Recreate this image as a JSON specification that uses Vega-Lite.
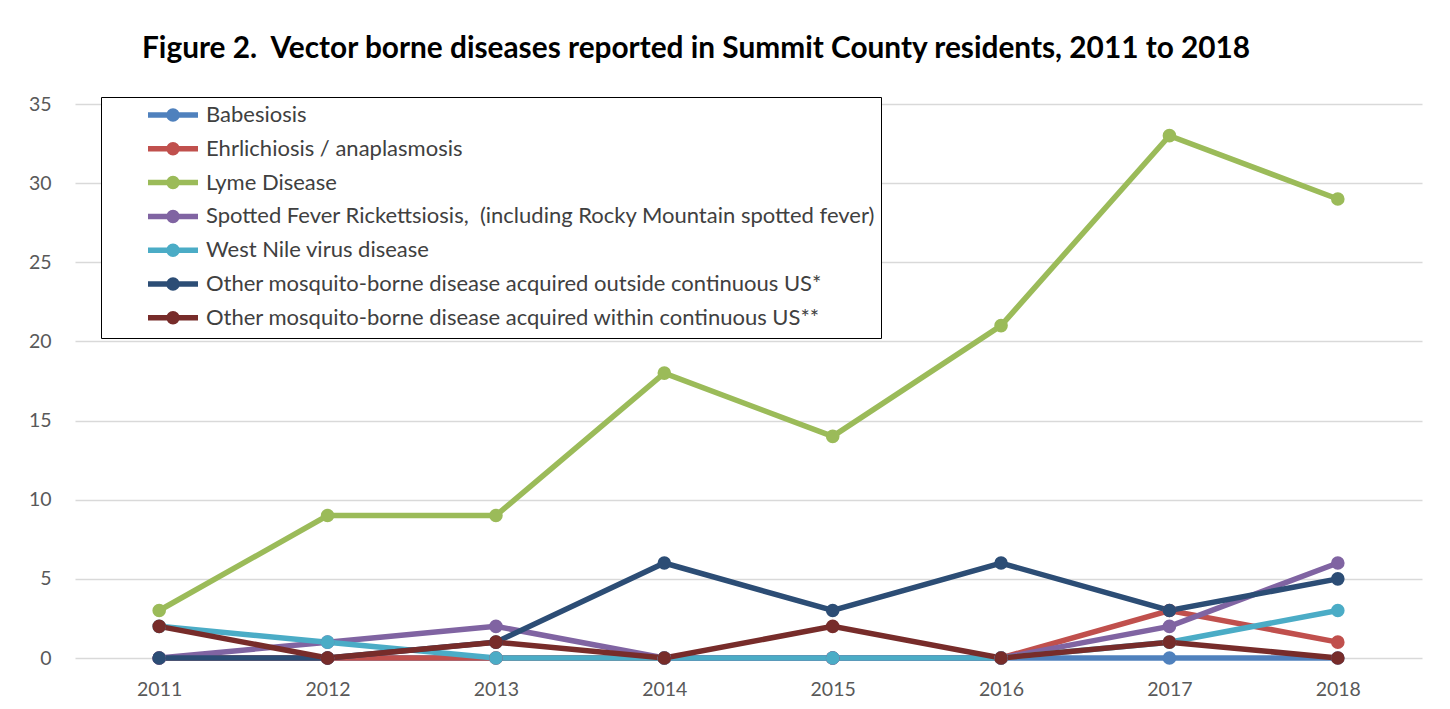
{
  "$schema": "https://vega.github.io/schema/vega-lite/v6.json",
  "autosize": {"type": "none"},
  "width": 1347,
  "height": 554,
  "padding": {"left": 75, "top": 104, "right": 28, "bottom": 51},
  "background": "white",
  "title": {
    "text": "Figure 2.\u00a0 Vector borne diseases reported in Summit County residents, 2011 to 2018",
    "anchor": "start",
    "frame": "group",
    "dx": 67,
    "offset": 30,
    "font": "Lato",
    "fontSize": 29.8,
    "fontWeight": "bold",
    "color": "#000000"
  },
  "config": {
    "view": {"stroke": null},
    "font": "Lato",
    "axis": {
      "labelFont": "Lato",
      "labelFontSize": 19.5,
      "labelColor": "#595959",
      "ticks": false,
      "domain": false,
      "title": null,
      "gridColor": "#D9D9D9",
      "gridWidth": 1.3
    }
  },
  "data": {
    "values": [
      {"disease": "Babesiosis", "year": "2011", "cases": 0},
      {"disease": "Babesiosis", "year": "2012", "cases": 0},
      {"disease": "Babesiosis", "year": "2013", "cases": 0},
      {"disease": "Babesiosis", "year": "2014", "cases": 0},
      {"disease": "Babesiosis", "year": "2015", "cases": 0},
      {"disease": "Babesiosis", "year": "2016", "cases": 0},
      {"disease": "Babesiosis", "year": "2017", "cases": 0},
      {"disease": "Babesiosis", "year": "2018", "cases": 0},
      {"disease": "Ehrlichiosis / anaplasmosis", "year": "2011", "cases": 0},
      {"disease": "Ehrlichiosis / anaplasmosis", "year": "2012", "cases": 0},
      {"disease": "Ehrlichiosis / anaplasmosis", "year": "2013", "cases": 0},
      {"disease": "Ehrlichiosis / anaplasmosis", "year": "2014", "cases": 0},
      {"disease": "Ehrlichiosis / anaplasmosis", "year": "2015", "cases": 0},
      {"disease": "Ehrlichiosis / anaplasmosis", "year": "2016", "cases": 0},
      {"disease": "Ehrlichiosis / anaplasmosis", "year": "2017", "cases": 3},
      {"disease": "Ehrlichiosis / anaplasmosis", "year": "2018", "cases": 1},
      {"disease": "Lyme Disease", "year": "2011", "cases": 3},
      {"disease": "Lyme Disease", "year": "2012", "cases": 9},
      {"disease": "Lyme Disease", "year": "2013", "cases": 9},
      {"disease": "Lyme Disease", "year": "2014", "cases": 18},
      {"disease": "Lyme Disease", "year": "2015", "cases": 14},
      {"disease": "Lyme Disease", "year": "2016", "cases": 21},
      {"disease": "Lyme Disease", "year": "2017", "cases": 33},
      {"disease": "Lyme Disease", "year": "2018", "cases": 29},
      {"disease": "Spotted Fever Rickettsiosis,\u00a0 (including Rocky Mountain spotted fever)", "year": "2011", "cases": 0},
      {"disease": "Spotted Fever Rickettsiosis,\u00a0 (including Rocky Mountain spotted fever)", "year": "2012", "cases": 1},
      {"disease": "Spotted Fever Rickettsiosis,\u00a0 (including Rocky Mountain spotted fever)", "year": "2013", "cases": 2},
      {"disease": "Spotted Fever Rickettsiosis,\u00a0 (including Rocky Mountain spotted fever)", "year": "2014", "cases": 0},
      {"disease": "Spotted Fever Rickettsiosis,\u00a0 (including Rocky Mountain spotted fever)", "year": "2015", "cases": 0},
      {"disease": "Spotted Fever Rickettsiosis,\u00a0 (including Rocky Mountain spotted fever)", "year": "2016", "cases": 0},
      {"disease": "Spotted Fever Rickettsiosis,\u00a0 (including Rocky Mountain spotted fever)", "year": "2017", "cases": 2},
      {"disease": "Spotted Fever Rickettsiosis,\u00a0 (including Rocky Mountain spotted fever)", "year": "2018", "cases": 6},
      {"disease": "West Nile virus disease", "year": "2011", "cases": 2},
      {"disease": "West Nile virus disease", "year": "2012", "cases": 1},
      {"disease": "West Nile virus disease", "year": "2013", "cases": 0},
      {"disease": "West Nile virus disease", "year": "2014", "cases": 0},
      {"disease": "West Nile virus disease", "year": "2015", "cases": 0},
      {"disease": "West Nile virus disease", "year": "2016", "cases": 0},
      {"disease": "West Nile virus disease", "year": "2017", "cases": 1},
      {"disease": "West Nile virus disease", "year": "2018", "cases": 3},
      {"disease": "Other mosquito-borne disease acquired outside continuous US*", "year": "2011", "cases": 0},
      {"disease": "Other mosquito-borne disease acquired outside continuous US*", "year": "2012", "cases": 0},
      {"disease": "Other mosquito-borne disease acquired outside continuous US*", "year": "2013", "cases": 1},
      {"disease": "Other mosquito-borne disease acquired outside continuous US*", "year": "2014", "cases": 6},
      {"disease": "Other mosquito-borne disease acquired outside continuous US*", "year": "2015", "cases": 3},
      {"disease": "Other mosquito-borne disease acquired outside continuous US*", "year": "2016", "cases": 6},
      {"disease": "Other mosquito-borne disease acquired outside continuous US*", "year": "2017", "cases": 3},
      {"disease": "Other mosquito-borne disease acquired outside continuous US*", "year": "2018", "cases": 5},
      {"disease": "Other mosquito-borne disease acquired within continuous US**", "year": "2011", "cases": 2},
      {"disease": "Other mosquito-borne disease acquired within continuous US**", "year": "2012", "cases": 0},
      {"disease": "Other mosquito-borne disease acquired within continuous US**", "year": "2013", "cases": 1},
      {"disease": "Other mosquito-borne disease acquired within continuous US**", "year": "2014", "cases": 0},
      {"disease": "Other mosquito-borne disease acquired within continuous US**", "year": "2015", "cases": 2},
      {"disease": "Other mosquito-borne disease acquired within continuous US**", "year": "2016", "cases": 0},
      {"disease": "Other mosquito-borne disease acquired within continuous US**", "year": "2017", "cases": 1},
      {"disease": "Other mosquito-borne disease acquired within continuous US**", "year": "2018", "cases": 0}
    ]
  },
  "mark": {
    "type": "line",
    "strokeWidth": 5.5,
    "point": {"filled": true, "size": 185, "opacity": 1}
  },
  "encoding": {
    "x": {
      "field": "year",
      "type": "ordinal",
      "scale": {"type": "point", "padding": 0.5},
      "axis": {"labelAngle": 0, "labelPadding": 22, "grid": false}
    },
    "y": {
      "field": "cases",
      "type": "quantitative",
      "scale": {"domain": [0, 35], "nice": false},
      "axis": {"values": [0, 5, 10, 15, 20, 25, 30, 35], "labelPadding": 24, "grid": true}
    },
    "color": {
      "field": "disease",
      "type": "nominal",
      "sort": null,
      "scale": {
        "domain": [
          "Babesiosis",
          "Ehrlichiosis / anaplasmosis",
          "Lyme Disease",
          "Spotted Fever Rickettsiosis,\u00a0 (including Rocky Mountain spotted fever)",
          "West Nile virus disease",
          "Other mosquito-borne disease acquired outside continuous US*",
          "Other mosquito-borne disease acquired within continuous US**"
        ],
        "range": ["#4F81BD", "#C0504D", "#9BBB59", "#8064A2", "#4BACC6", "#2C4D75", "#772C2A"]
      },
      "legend": {
        "title": null,
        "orient": "none",
        "legendX": 26,
        "legendY": -7,
        "direction": "vertical",
        "strokeColor": "#000000",
        "fillColor": "white",
        "padding": 5,
        "labelFont": "Lato",
        "labelFontSize": 22,
        "labelColor": "#404040",
        "labelLimit": 0,
        "labelOffset": 20,
        "rowPadding": 3.8,
        "symbolType": "M-2.5,0L2.5,0M-0.4,0A0.4,0.4 0 1,0 0.4,0A0.4,0.4 0 1,0 -0.4,0",
        "symbolSize": 400,
        "symbolStrokeWidth": 5.5,
        "symbolOffset": 54
      }
    }
  }
}
